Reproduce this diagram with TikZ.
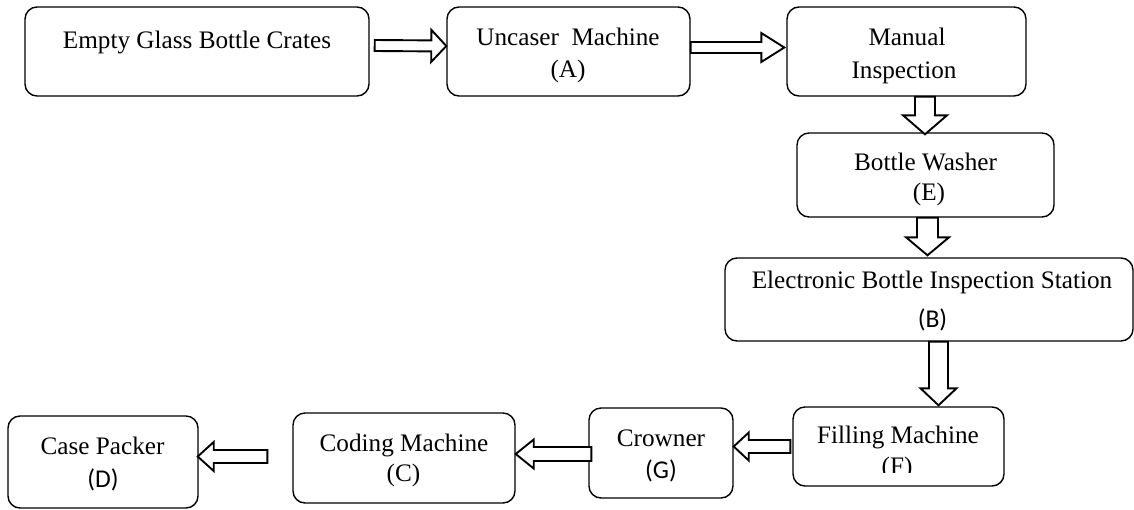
\documentclass[tikz,border=0pt]{standalone}
\usepackage{fontspec}
\setmainfont{Liberation Serif}
\newfontfamily\labelfont{Carlito}
\usetikzlibrary{calc}

\tikzset{
  box/.style={draw, line width=1.4pt, rounded corners=12pt, inner sep=0pt},
  txt/.style={anchor=base, inner sep=0pt, font=\fontsize{25.2}{30}\selectfont},
  lbl/.style={anchor=base, inner sep=0pt, font=\labelfont\fontsize{25.6}{30}\selectfont},
  flow/.style={draw, line width=1.9pt, line join=miter, fill=white}
}

% hollow block arrow: start, tip, shaft half-width, head half-width, head length
\newcommand\flowarrow[5]{%
  \path (#1) coordinate (fa-s) (#2) coordinate (fa-e);
  \coordinate (fa-b) at ($(fa-e)!#5pt!(fa-s)$);
  \draw[flow] ($(fa-s)!#3pt!90:(fa-e)$) -- ($(fa-b)!#3pt!90:(fa-e)$)
    -- ($(fa-b)!#4pt!90:(fa-e)$) -- (fa-e)
    -- ($(fa-b)!#4pt!-90:(fa-e)$) -- ($(fa-b)!#3pt!-90:(fa-e)$)
    -- ($(fa-s)!#3pt!-90:(fa-e)$) -- cycle;
}

\begin{document}
\begin{tikzpicture}[x=1pt, y=-1pt]
\useasboundingbox (0,0) rectangle (1134,509);

% process boxes
\node[box, minimum width=344pt, minimum height=89pt] (b1) at (197,51.5) {};
\node[box, minimum width=243pt, minimum height=89pt] (b2) at (568.5,51.5) {};
\node[box, minimum width=239pt, minimum height=89pt] (b3) at (906.5,51.5) {};
\node[box, minimum width=257pt, minimum height=84pt] (b4) at (925.5,175) {};
\node[box, minimum width=408pt, minimum height=83pt] (b5) at (929,299.5) {};
\node[box, minimum width=211pt, minimum height=79pt] (b6) at (898.5,446.5) {};
\node[box, minimum width=144pt, minimum height=90pt] (b7) at (661,453) {};
\node[box, minimum width=222pt, minimum height=90pt] (b8) at (404,458) {};
\node[box, minimum width=190pt, minimum height=92pt] (b9) at (103,462) {};

% box texts
\node[txt] (t1) at (197,48) {Empty Glass Bottle Crates};
\node[txt] (t2a) at (568,45) {Uncaser\ \ Machine};
\node[txt] (t2b) at (568,77) {(A)};
\node[txt] (t3a) at (907,45) {Manual};
\node[txt] (t3b) at (904,78) {Inspection};
\node[txt] (t4a) at (925.5,170) {Bottle Washer};
\node[txt] (t4b) at (929,200) {(E)};
\node[txt] (t5a) at (932,288) {Electronic Bottle Inspection Station};
\node[lbl] (t5b) at (932.5,327) {(B)};
\node[txt] (t6a) at (898,443) {Filling Machine};
\begin{scope}
  \clip (793,400) rectangle (1004,472);
  \node[txt] (t6b) at (897,474) {(F)};
\end{scope}
\node[txt] (t7a) at (661,446) {Crowner};
\node[lbl] (t7b) at (661,478) {(G)};
\node[txt] (t8a) at (404,451) {Coding Machine};
\node[txt] (t8b) at (403.5,481) {(C)};
\node[txt] (t9a) at (102.5,454) {Case Packer};
\node[lbl] (t9b) at (103,487) {(D)};

% block arrows between the stations
\flowarrow{$(b1.east)+(5,-6)$}{$(b2.west)+(0,-5.5)$}{5.5}{16}{15}
\flowarrow{$(b2.east)+(0,-4)$}{$(b3.west)+(-2,-4)$}{5.5}{14.5}{23}
\flowarrow{$(b3.south)+(18.5,0)$}{$(b4.north)+(-0.5,2)$}{10}{22}{19}
\flowarrow{$(b4.south)+(2,0)$}{$(b5.north)+(-1.5,-2)$}{10.5}{21.5}{18}
\flowarrow{$(b5.south)+(9.5,0)$}{$(b6.north)+(40,-1)$}{9.5}{18}{17}
\flowarrow{$(b6.west)+(-2,0)$}{$(b7.east)+(0,-6.5)$}{6.5}{14}{15}
\flowarrow{$(b7.west)+(3,1)$}{$(b8.east)+(0,-4)$}{7}{14.5}{18}
\flowarrow{$(b8.west)+(-25,-1.5)$}{$(b9.east)+(-1,-5.5)$}{6.5}{14.5}{16}
\end{tikzpicture}
\end{document}
